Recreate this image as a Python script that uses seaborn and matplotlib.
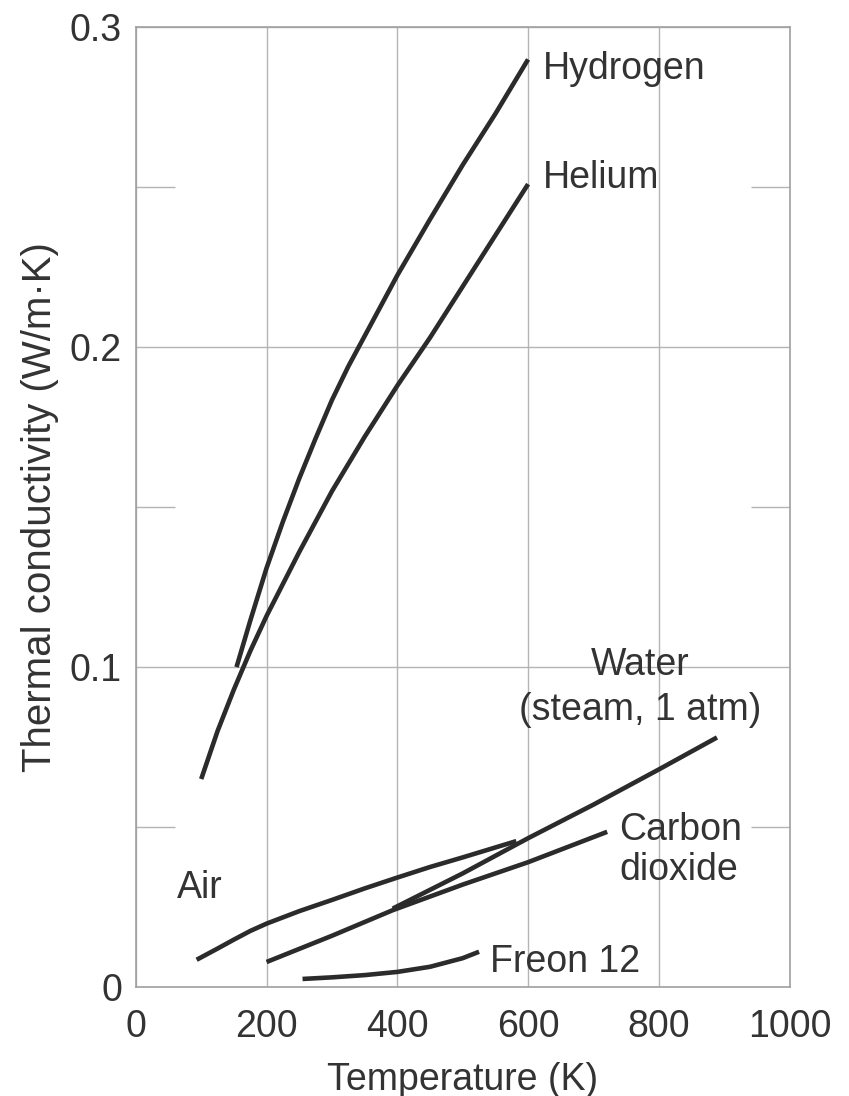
import matplotlib
matplotlib.use("Agg")
import matplotlib.pyplot as plt
import seaborn as sns
import pandas as pd

# values (temperature K, conductivity W/m.K)
hydrogen_t = [154, 175, 200, 225, 250, 275, 300, 325, 350, 375, 400, 450, 500, 550, 600]
hydrogen_k = [0.100, 0.1145, 0.131, 0.1455, 0.159, 0.1715, 0.1835, 0.194, 0.2035,
              0.213, 0.2225, 0.240, 0.257, 0.273, 0.290]

helium_t = [100, 125, 150, 175, 200, 250, 300, 350, 400, 450, 500, 550, 600]
helium_k = [0.065, 0.080, 0.093, 0.105, 0.116, 0.136, 0.155, 0.172, 0.188,
            0.203, 0.219, 0.235, 0.251]

air_t = [93, 125, 150, 175, 200, 250, 300, 350, 400, 450, 500, 582]
air_k = [0.0085, 0.012, 0.0148, 0.0175, 0.0198, 0.0237, 0.0272, 0.0308,
         0.0342, 0.0375, 0.0405, 0.0456]

water_t = [393, 500, 600, 700, 800, 889]
water_k = [0.0245, 0.0355, 0.0465, 0.057, 0.068, 0.078]

co2_t = [200, 300, 393, 500, 600, 721]
co2_k = [0.0078, 0.016, 0.024, 0.032, 0.039, 0.0485]

freon_t = [255, 300, 350, 400, 450, 500, 525]
freon_k = [0.0025, 0.003, 0.0037, 0.0047, 0.0063, 0.009, 0.011]

x_ticks = [0, 200, 400, 600, 800, 1000]
y_ticks = [0, 0.1, 0.2, 0.3]
y_tick_labels = ["0", "0.1", "0.2", "0.3"]

series = [
    ("Hydrogen", hydrogen_t, hydrogen_k),
    ("Helium", helium_t, helium_k),
    ("Air", air_t, air_k),
    ("Water", water_t, water_k),
    ("Carbon dioxide", co2_t, co2_k),
    ("Freon 12", freon_t, freon_k),
]

sns.set_style("white")
plt.rcParams['font.family'] = ['Liberation Sans', 'DejaVu Sans']

LINE_COLOR = '#2b2b2b'
GRID_COLOR = '#b4b4b4'
TEXT_COLOR = '#333333'
FS = 27

fig = plt.figure(figsize=(8.49, 10.96), dpi=100)
ax = fig.add_axes([0.160, 0.0995, 0.770, 0.8755])

for name, t, k in series:
    df = pd.DataFrame({'T': t, 'k': k})
    sns.lineplot(data=df, x='T', y='k', ax=ax, color=LINE_COLOR, lw=3.3,
                 sort=False, estimator=None, solid_capstyle='butt',
                 solid_joinstyle='round')

ax.set_xlim(0, 1000)
ax.set_ylim(0, 0.3)

ax.set_xticks(x_ticks)
ax.set_xticklabels([str(v) for v in x_ticks])
ax.set_yticks(y_ticks)
ax.set_yticklabels(y_tick_labels)
ax.set_yticks([0.05, 0.15, 0.25], minor=True)

ax.tick_params(axis='both', which='major', length=0, labelsize=FS, colors=TEXT_COLOR)
ax.tick_params(axis='x', which='major', pad=16)
ax.tick_params(axis='y', which='major', pad=10)
ax.tick_params(axis='y', which='minor', direction='in', length=28, width=1,
               color=GRID_COLOR, left=True, right=True)

ax.grid(True, which='major', color=GRID_COLOR, lw=1.0)
for s in ax.spines.values():
    s.set_color('#a0a0a0')
    s.set_linewidth(1.2)

ax.set_xlabel("Temperature (K)", fontsize=FS, color=TEXT_COLOR, labelpad=12)
ax.set_ylabel("Thermal conductivity (W/m\u00b7K)", fontsize=29, color=TEXT_COLOR, labelpad=8)

txt = dict(fontsize=FS, color=TEXT_COLOR)
ax.text(622, 0.287, "Hydrogen", ha='left', va='center', **txt)
ax.text(622, 0.253, "Helium", ha='left', va='center', **txt)
ax.text(772, 0.0936, "Water\n(steam, 1 atm)", ha='center', va='center',
        multialignment='center', linespacing=1.3, **txt)
ax.text(740, 0.0428, "Carbon\ndioxide", ha='left', va='center', linespacing=1.15, **txt)
ax.text(98, 0.031, "Air", ha='center', va='center', **txt)
ax.text(541, 0.0078, "Freon 12", ha='left', va='center', **txt)

plt.savefig("out.png", dpi=100)
